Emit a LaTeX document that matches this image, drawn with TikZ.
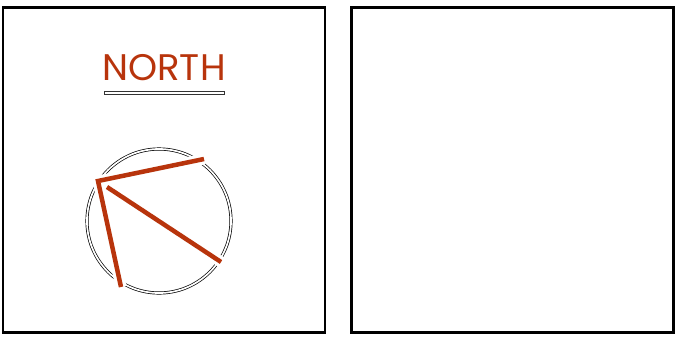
\documentclass[tikz,border=0pt]{standalone}
\usepackage{fontspec}
\setmainfont{Poppins}
\usepackage{xcolor}
\usetikzlibrary{positioning,calc}
\definecolor{rust}{HTML}{B8340C}

\begin{document}
\begin{tikzpicture}[x=1pt,y=-1pt,
  panel/.style={draw, line width=2.5pt, minimum width=322pt, minimum height=325pt, inner sep=0pt},
  ring/.style={draw, circle, double, double distance=1.7pt, line width=0.7pt, minimum size=144pt, inner sep=0pt},
  underbar/.style={draw=black!80, line width=0.9pt},
  needle/.style={draw=rust, line width=4.5pt, miter limit=10, preaction={draw=white, line width=11pt}}]
  \useasboundingbox (0,0) rectangle (692,346);
  % the two panels
  \node[panel] (west) at (164,170) {};
  \node[panel] (east) at (512.5,170) {};
  % heading with double rule
  \node[text=rust, font=\fontsize{37}{39}\selectfont, inner sep=0pt] (title) at (164,68) {NORTH};
  \coordinate (barA) at (104,91.6);
  \coordinate (barB) at (224,94.4);
  \path[underbar] (barA) rectangle (barB);
  % dial
  \node[ring] (dial) at (159,221) {};
  \coordinate (tip) at (98,181);
  \coordinate (armA) at (204,159);
  \coordinate (armB) at (121,287);
  \coordinate (handA) at (107,187);
  \coordinate (handB) at (221,262);
  \draw[needle] (armA) -- (tip) -- (armB);
  \draw[needle] (handA) -- (handB);
\end{tikzpicture}
\end{document}
